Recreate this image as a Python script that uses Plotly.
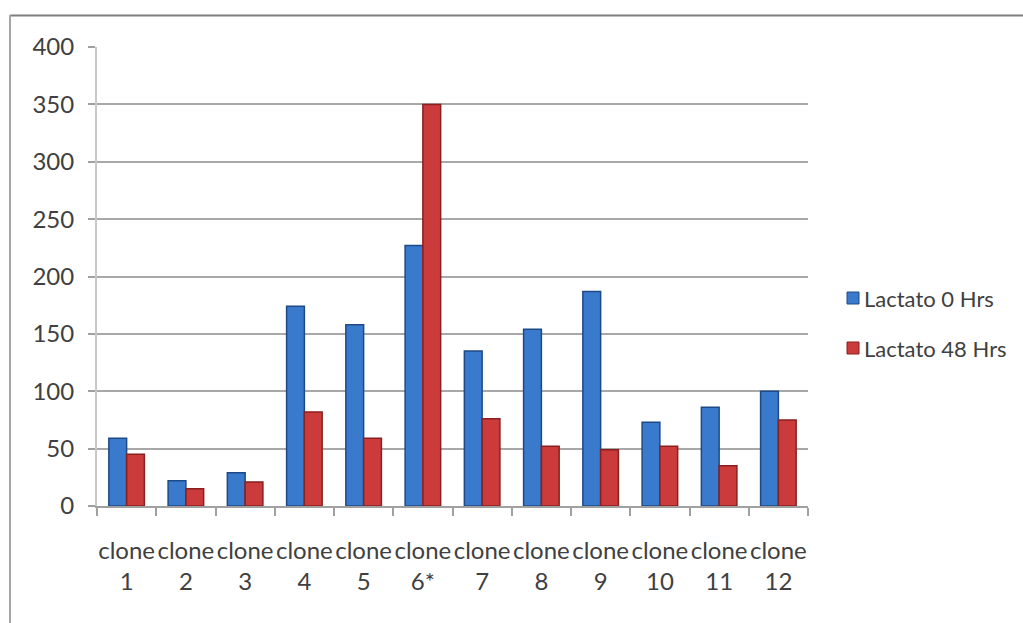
import plotly.graph_objects as go

# Lactate readings per clone at 0 h and 48 h
clones = ["clone<br>1", "clone<br>2", "clone<br>3", "clone<br>4", "clone<br>5", "clone<br>6*",
          "clone<br>7", "clone<br>8", "clone<br>9", "clone<br>10", "clone<br>11", "clone<br>12"]
lactato_0h = [59, 22, 29, 174, 158, 227, 135, 154, 187, 73, 86, 100]
lactato_48h = [45, 15, 21, 82, 59, 350, 76, 52, 49, 52, 35, 75]
y_ticks = [0, 50, 100, 150, 200, 250, 300, 350, 400]
series_names = ["Lactato 0 Hrs", "Lactato 48 Hrs"]
fill_colors = ["#3a7acd", "#cc3b3b"]
edge_colors = ["#1d4a86", "#8a1f1f"]

FONT = "Lato"
TEXT = "#404040"

fig = go.Figure()
for name, vals, fc, ec in zip(series_names, [lactato_0h, lactato_48h], fill_colors, edge_colors):
    fig.add_trace(go.Bar(
        x=clones, y=vals, name=name,
        marker=dict(color=fc, line=dict(color=ec, width=1.5)),
    ))

# plot area in pixels: x 97..808, y 47..506
L, R, T, B = 97, 808, 47, 506
W, H = 1023, 623


def px(x):
    return (x - L) / (R - L)


def py(y):
    return (B - y) / (B - T)


shapes = [
    # outer chart frame (top and left edges)
    dict(type="line", xref="paper", yref="paper", x0=px(10), x1=px(1030), y0=py(15.5), y1=py(15.5),
         line=dict(color="#7f7f7f", width=2)),
    dict(type="line", xref="paper", yref="paper", x0=px(10), x1=px(10), y0=py(15), y1=py(640),
         line=dict(color="#a6a6a6", width=2)),
]
annotations = []

# legend: small square swatch followed by the series name
for i, (name, fc, ec) in enumerate(zip(series_names, fill_colors, edge_colors)):
    cy = 298 + 50 * i
    shapes.append(dict(type="rect", xref="paper", yref="paper",
                       x0=px(847), x1=px(859), y0=py(cy + 6), y1=py(cy - 6),
                       fillcolor=fc, line=dict(color=ec, width=1)))
    annotations.append(dict(xref="paper", yref="paper", x=px(862), y=py(cy),
                            xanchor="left", yanchor="middle", showarrow=False,
                            text=name, font=dict(family=FONT, size=22, color=TEXT)))

fig.update_layout(
    width=W, height=H,
    margin=dict(l=L, r=W - R, t=T, b=H - B, pad=0, autoexpand=False),
    paper_bgcolor="white", plot_bgcolor="white",
    barmode="group", bargap=0.4, bargroupgap=0,
    font=dict(family=FONT, size=24, color=TEXT),
    shapes=shapes, annotations=annotations,
    showlegend=False,
)
fig.update_xaxes(
    type="category", showline=True, linecolor="#a0a0a0", linewidth=2,
    ticks="outside", tickson="boundaries", ticklen=8, tickcolor="#a0a0a0", tickwidth=2,
    tickfont=dict(family=FONT, size=24, color=TEXT), ticklabelstandoff=22, tickangle=0,
    showgrid=False, fixedrange=True, automargin=False,
)
fig.update_yaxes(
    range=[0, 400], tickvals=y_ticks, showline=True, linecolor="#c8c8c8", linewidth=2,
    ticks="outside", ticklen=7, tickcolor="#a0a0a0", tickwidth=2,
    showgrid=True, gridcolor="#a8a8a8", gridwidth=2, zeroline=False,
    tickfont=dict(family=FONT, size=24, color=TEXT), ticklabelstandoff=9,
    fixedrange=True, automargin=False,
)

fig.write_html("out.html")
